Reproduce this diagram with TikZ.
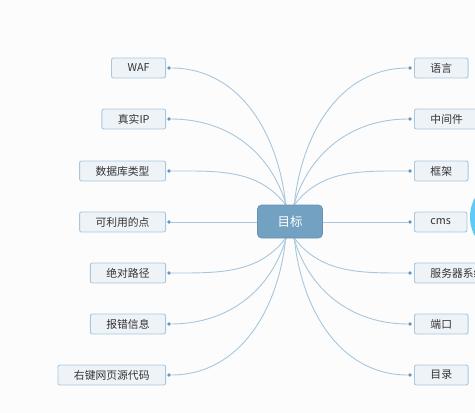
\documentclass[tikz,border=0pt]{standalone}
\usepackage{fontspec}
\setmainfont{Noto Sans CJK SC}
\definecolor{pagebg}{HTML}{FCFCFD}
\definecolor{linkblue}{HTML}{A9C7DC}
\definecolor{knobblue}{HTML}{6396BF}
\definecolor{boxfill}{HTML}{EEF3F8}
\definecolor{boxline}{HTML}{A9C8DD}
\definecolor{rootfill}{HTML}{73A1C2}
\definecolor{textgray}{HTML}{333333}
\definecolor{bubble}{HTML}{5ECBF7}
\begin{document}
\begin{tikzpicture}[x=1pt,y=-1pt,
    topic/.style={rectangle,rounded corners=2pt,draw=boxline,fill=boxfill,line width=0.9pt,
        text=textgray,font=\fontsize{10.8}{12}\selectfont,inner xsep=16pt,inner ysep=0pt,minimum height=20pt},
    ltopic/.style={topic,anchor=east},
    rtopic/.style={topic,anchor=west},
    root/.style={rectangle,rounded corners=4pt,draw=rootfill!90!black,fill=rootfill,line width=0.6pt,
        text=white,font=\fontsize{12.5}{14}\selectfont,minimum width=65pt,minimum height=33pt},
    knob/.style={circle,fill=knobblue,inner sep=0pt,minimum size=3.6pt},
    link/.style={draw=linkblue,line width=0.9pt}]
    \useasboundingbox (0,0) rectangle (475,413);
    \clip (0,0) rectangle (475,413);
    \fill[pagebg] (0,0) rectangle (475,413);
    \fill[bubble] (510,217) circle (40);
    % branches on the left
    \node at (166,68) [ltopic] (waf) {WAF};
    \node at (166,119) [ltopic] (ip) {真实IP};
    \node at (166,171) [ltopic] (db) {数据库类型};
    \node at (166,222) [ltopic] (pt) {可利用的点};
    \node at (166,273) [ltopic] (path) {绝对路径};
    \node at (166,324) [ltopic] (err) {报错信息};
    \node at (166,375) [ltopic] (src) {右键网页源代码};
    % branches on the right
    \node at (414,68) [rtopic] (lang) {语言};
    \node at (414,119) [rtopic] (mid) {中间件};
    \node at (414,171) [rtopic] (frame) {框架};
    \node at (414,222) [rtopic] (cms) {cms};
    \node at (414,273) [rtopic] (os) {服务器系统};
    \node at (414,324) [rtopic] (port) {端口};
    \node at (414,375) [rtopic] (dir) {目录};
    % joints
    \node at (169,68) [knob] (kwaf) {};
    \node at (169,119) [knob] (kip) {};
    \node at (169,171) [knob] (kdb) {};
    \node at (169,222) [knob] (kpt) {};
    \node at (169,273) [knob] (kpath) {};
    \node at (169,324) [knob] (kerr) {};
    \node at (169,375) [knob] (ksrc) {};
    \node at (410,68) [knob] (klang) {};
    \node at (410,119) [knob] (kmid) {};
    \node at (410,171) [knob] (kframe) {};
    \node at (410,222) [knob] (kcms) {};
    \node at (410,273) [knob] (kos) {};
    \node at (410,324) [knob] (kport) {};
    \node at (410,375) [knob] (kdir) {};
    % links leave the centre from its top and bottom
    \coordinate (gtop) at (290,208);
    \coordinate (gbot) at (290,235);
    \draw[link] ([xshift=-4pt]gtop) to[out=95,in=0] (kwaf);
    \draw[link] ([xshift=-3pt]gtop) to[out=105,in=0] (kip);
    \draw[link] ([xshift=-2pt]gtop) to[out=125,in=0] (kdb);
    \draw[link] (kpt) -- (kcms);
    \draw[link] ([xshift=4pt]gtop) to[out=85,in=180] (klang);
    \draw[link] ([xshift=3pt]gtop) to[out=75,in=180] (kmid);
    \draw[link] ([xshift=2pt]gtop) to[out=55,in=180] (kframe);
    \draw[link] ([xshift=-2pt]gbot) to[out=235,in=0] (kpath);
    \draw[link] ([xshift=-3pt]gbot) to[out=255,in=0] (kerr);
    \draw[link] ([xshift=-4pt]gbot) to[out=265,in=0] (ksrc);
    \draw[link] ([xshift=2pt]gbot) to[out=-55,in=180] (kos);
    \draw[link] ([xshift=3pt]gbot) to[out=-75,in=180] (kport);
    \draw[link] ([xshift=4pt]gbot) to[out=-85,in=180] (kdir);
    \node at (290,221.5) [root] (goal) {目标};
\end{tikzpicture}
\end{document}
